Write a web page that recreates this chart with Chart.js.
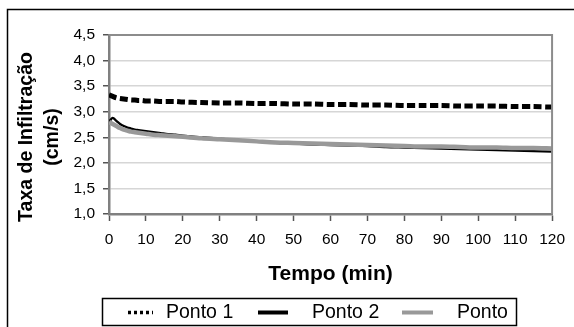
<!DOCTYPE html>
<html>
<head>
<meta charset="utf-8">
<script src="https://cdn.jsdelivr.net/npm/chart.js@4"></script>
<style>
html,body{margin:0;padding:0;background:#fff;}
#wrap{position:relative;width:574px;height:327px;}
</style>
</head>
<body>
<div id="wrap"><canvas id="c" width="574" height="327"></canvas></div>
<script>
// ---- data ----
const times = [0,1,2,3,4,5,6,7,8,9,10,12,14,16,18,20,25,30,35,40,45,50,55,60,65,70,75,80,85,90,95,100,105,110,115,120];
const ponto1 = [3.33,3.30,3.27,3.26,3.25,3.24,3.23,3.23,3.22,3.22,3.21,3.21,3.20,3.20,3.20,3.19,3.18,3.17,3.17,3.16,3.16,3.15,3.15,3.14,3.14,3.13,3.13,3.12,3.12,3.12,3.11,3.11,3.11,3.10,3.10,3.09];
const ponto2 = [2.80,2.88,2.82,2.76,2.72,2.69,2.67,2.65,2.64,2.63,2.62,2.60,2.58,2.56,2.55,2.53,2.50,2.47,2.44,2.42,2.40,2.38,2.36,2.35,2.34,2.33,2.31,2.30,2.29,2.28,2.27,2.26,2.25,2.24,2.23,2.22];
const ponto3 = [2.80,2.76,2.72,2.68,2.65,2.63,2.61,2.60,2.59,2.58,2.57,2.55,2.54,2.53,2.52,2.51,2.48,2.46,2.44,2.42,2.40,2.39,2.38,2.37,2.36,2.35,2.34,2.33,2.32,2.32,2.31,2.30,2.30,2.29,2.29,2.28];
const seriesNames = ["Ponto 1","Ponto 2","Ponto"];
const xTitle = "Tempo (min)";
const yTitleLines = ["Taxa de Infiltração","(cm/s)"];
const xTicks = [0,10,20,30,40,50,60,70,80,90,100,110,120];
const yTicks = [1.0,1.5,2.0,2.5,3.0,3.5,4.0,4.5];

const FONT = "'Liberation Sans', Arial, sans-serif";
const pts = arr => arr.map((v,i)=>({x:times[i], y:v}));

const styles = [
  {color:'#000000', width:5, dash:[8,3.5], legendDash:[3,3], legendWidth:3.5, order:0},
  {color:'#000000', width:2.4, dash:[], legendDash:[], legendWidth:4, order:2},
  {color:'#999999', width:4.5, dash:[], legendDash:[], legendWidth:4, order:1}
];
const seriesData = [ponto1, ponto2, ponto3];

const decorPlugin = {
  id:'decor',
  beforeDraw(chart){
    const ctx = chart.ctx;
    ctx.save();
    ctx.fillStyle='#fff';
    ctx.fillRect(0,0,chart.width,chart.height);
    ctx.restore();
  },
  afterDraw(chart){
    const ctx = chart.ctx, a = chart.chartArea;
    ctx.save();
    // plot frame (top/right)
    ctx.strokeStyle='#8c8c8c'; ctx.lineWidth=2;
    ctx.beginPath();
    ctx.moveTo(a.left, a.top); ctx.lineTo(a.right, a.top); ctx.lineTo(a.right, a.bottom);
    ctx.stroke();
    // outer frame
    ctx.strokeStyle='#000'; ctx.lineWidth=1.5;
    ctx.strokeRect(7.5, 9.5, 700, 400);
    // axis titles
    ctx.fillStyle='#000';
    ctx.font = "bold 21px "+FONT;
    ctx.textAlign='center'; ctx.textBaseline='alphabetic';
    ctx.fillText(xTitle, (a.left+a.right)/2, 280);
    ctx.save();
    ctx.translate(0, 137);
    ctx.rotate(-Math.PI/2);
    ctx.font = "bold 19.5px "+FONT;
    ctx.fillText(yTitleLines[0], 0, 32);
    ctx.fillText(yTitleLines[1], 0, 58);
    ctx.restore();
    // legend
    ctx.strokeStyle='#000'; ctx.lineWidth=1.5;
    ctx.strokeRect(102.5, 298.5, 414, 27);
    const samples = [[128,153,166],[258,288,312],[402,433,457]];
    ctx.font = "19.5px "+FONT;
    ctx.textAlign='left'; ctx.textBaseline='middle';
    samples.forEach((s,i)=>{
      const st = styles[i];
      ctx.beginPath();
      ctx.setLineDash(st.legendDash);
      ctx.strokeStyle = st.color; ctx.lineWidth = st.legendWidth;
      ctx.moveTo(s[0], 312.5); ctx.lineTo(s[1], 312.5); ctx.stroke();
      ctx.setLineDash([]);
      ctx.fillStyle='#000';
      ctx.fillText(seriesNames[i], s[2], 313);
    });
    ctx.restore();
  }
};

new Chart(document.getElementById('c'), {
  type:'scatter',
  data:{
    datasets: seriesData.map((d,i)=>({
      label: seriesNames[i],
      data: pts(d),
      showLine:true,
      borderColor: styles[i].color,
      backgroundColor: styles[i].color,
      borderWidth: styles[i].width,
      borderDash: styles[i].dash,
      borderCapStyle:'butt',
      pointRadius:0,
      tension:0.3,
      order: styles[i].order
    }))
  },
  options:{
    responsive:false,
    animation:false,
    devicePixelRatio:1,
    layout:{padding:{left:0,right:13,top:35,bottom:0}},
    plugins:{legend:{display:false}, tooltip:{enabled:false}},
    scales:{
      x:{
        type:'linear', min:0, max:120,
        afterBuildTicks: s => { s.ticks = xTicks.map(v=>({value:v})); },
        afterFit: s => { s.height = 113; },
        ticks:{font:{family:FONT,size:15.5}, color:'#000', padding:9, maxRotation:0, autoSkip:false},
        grid:{drawOnChartArea:false, drawTicks:true, tickLength:7, tickColor:'#555', tickWidth:1.5},
        border:{display:true, color:'#808080', width:2.5}
      },
      y:{
        type:'linear', min:1, max:4.5,
        afterBuildTicks: s => { s.ticks = yTicks.map(v=>({value:v})); },
        afterFit: s => { s.width = 109; },
        ticks:{font:{family:FONT,size:15.5}, color:'#000', padding:8,
          callback: v => v.toFixed(1).replace('.', ',')},
        grid:{color:'#d6d6d6', lineWidth:1.5, tickLength:6, tickColor:'#555', tickWidth:1.5},
        border:{display:true, color:'#808080', width:2.5}
      }
    }
  },
  plugins:[decorPlugin]
});
</script>
</body>
</html>
